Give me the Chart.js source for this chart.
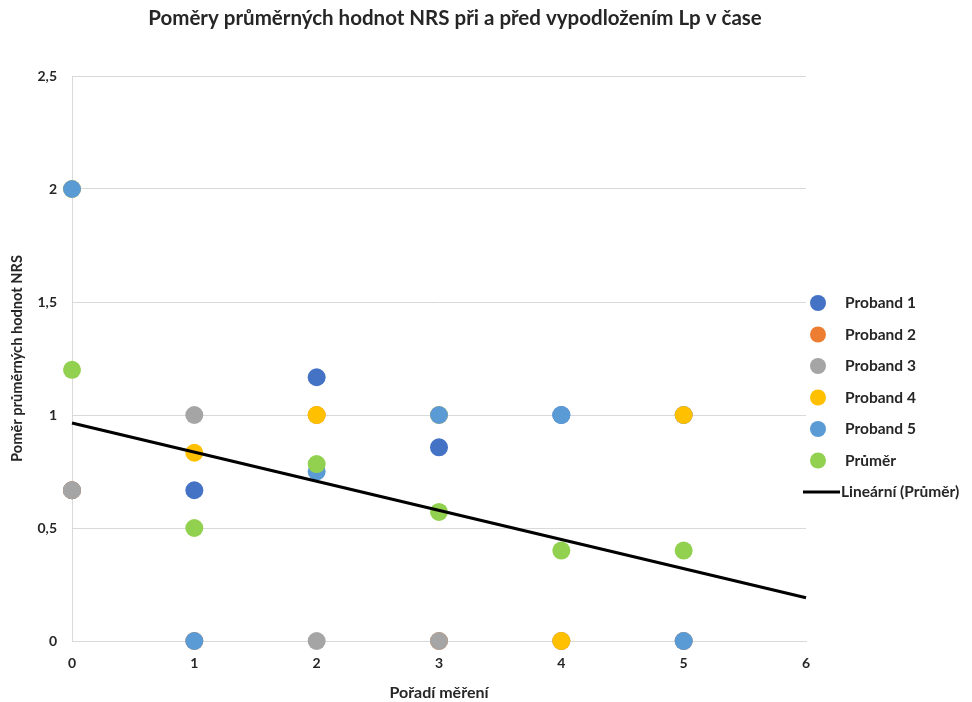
<!DOCTYPE html>
<html>
<head>
<meta charset="utf-8">
<script src="https://cdn.jsdelivr.net/npm/chart.js@4.4.1/dist/chart.umd.min.js"></script>
<style>
  html, body { margin: 0; padding: 0; background: #ffffff; }
  #wrap { width: 972px; height: 702px; }
</style>
</head>
<body>
<div id="wrap"><canvas id="c" width="972" height="702"></canvas></div>
<script>
// Pořadí měření (x) and poměry NRS pro jednotlivé probandy
const measurements = [0, 1, 2, 3, 4, 5];
const proband1 = [0.667, 0.667, 1.167, 0.857, 1, 1];
const proband2 = [0.667, 0, 1, 0, 0, 0];
const proband3 = [0.667, 1, 0, 0, 0, 0];
const proband4 = [2, 0.833, 1, 1, 0, 1];
const proband5 = [2, 0, 0.75, 1, 1, 0];
const prumer = [1.2, 0.5, 0.783, 0.571, 0.4, 0.4];

const seriesNames = ['Proband 1', 'Proband 2', 'Proband 3', 'Proband 4', 'Proband 5', 'Průměr'];
const seriesValues = [proband1, proband2, proband3, proband4, proband5, prumer];
const seriesColors = ['#4472C4', '#ED7D31', '#A5A5A5', '#FFC000', '#5B9BD5', '#92D050'];
const trendName = 'Lineární (Průměr)';
const trendRange = [0, 6];
const chartTitle = 'Poměry průměrných hodnot NRS při a před vypodložením Lp v čase';

const FONT = 'Lato, "Open Sans", sans-serif';
const TEXT = '#262626';

// least-squares trend of the mean series
function linearFit(xs, ys) {
  const n = xs.length;
  const mx = xs.reduce((a, b) => a + b, 0) / n;
  const my = ys.reduce((a, b) => a + b, 0) / n;
  let sxy = 0, sxx = 0;
  for (let i = 0; i < n; i++) {
    sxy += (xs[i] - mx) * (ys[i] - my);
    sxx += (xs[i] - mx) * (xs[i] - mx);
  }
  const slope = sxy / sxx;
  return { slope, intercept: my - slope * mx };
}
const fit = linearFit(measurements, prumer);

// later series sit on top of earlier ones, the trend line on top of all
const datasets = seriesNames.map((name, i) => ({
  label: name,
  data: measurements.map((x, j) => ({ x, y: seriesValues[i][j] })),
  backgroundColor: seriesColors[i],
  borderColor: seriesColors[i],
  pointRadius: 9,
  pointHoverRadius: 9,
  borderWidth: 0,
  showLine: false,
  clip: false,
  order: seriesNames.length - i + 1
}));
datasets.push({
  label: trendName,
  type: 'line',
  data: trendRange.map(x => ({ x, y: fit.intercept + fit.slope * x })),
  borderColor: '#000000',
  borderWidth: 3.2,
  pointRadius: 0,
  fill: false,
  clip: false,
  order: 0
});

// title above the plot, legend at its right
const decorations = {
  id: 'decorations',
  afterDraw(chart) {
    const { ctx, chartArea } = chart;
    ctx.save();
    ctx.fillStyle = TEXT;
    ctx.textBaseline = 'middle';
    ctx.textAlign = 'center';
    ctx.font = 'bold 20.5px ' + FONT;
    ctx.fillText(chartTitle, (chartArea.left + chartArea.right) / 2 + 16, 18);

    ctx.textAlign = 'left';
    ctx.font = 'bold 15.5px ' + FONT;
    const x0 = chartArea.right;
    let y = chartArea.top + 227;
    chart.data.datasets.forEach(ds => {
      if (ds.type === 'line') {
        ctx.strokeStyle = ds.borderColor;
        ctx.lineWidth = 3;
        ctx.beginPath();
        ctx.moveTo(x0 - 3, y);
        ctx.lineTo(x0 + 34, y);
        ctx.stroke();
        ctx.fillStyle = TEXT;
        ctx.fillText(ds.label, x0 + 35, y);
      } else {
        ctx.fillStyle = ds.backgroundColor;
        ctx.beginPath();
        ctx.arc(x0 + 12, y, 8, 0, Math.PI * 2);
        ctx.fill();
        ctx.fillStyle = TEXT;
        ctx.fillText(ds.label, x0 + 39, y);
      }
      y += 31.5;
    });
    ctx.restore();
  }
};

new Chart(document.getElementById('c'), {
  type: 'scatter',
  data: { datasets },
  plugins: [decorations],
  options: {
    responsive: false,
    animation: false,
    devicePixelRatio: 1,
    layout: { padding: { left: 9, right: 166, top: 76, bottom: 0 } },
    plugins: {
      legend: { display: false },
      tooltip: { enabled: false },
      title: { display: false }
    },
    scales: {
      x: {
        type: 'linear',
        min: 0,
        max: 6,
        afterFit: s => { s.height = 61; },
        ticks: { stepSize: 1, padding: 14, color: TEXT, font: { family: FONT, size: 14, weight: 'bold' } },
        grid: { display: false, drawTicks: false },
        border: { display: true, color: '#D9D9D9', width: 1 },
        title: {
          display: true,
          text: 'Pořadí měření',
          color: TEXT,
          font: { family: FONT, size: 16, weight: 'bold' },
          padding: { top: 0, bottom: 0 }
        }
      },
      y: {
        min: 0,
        max: 2.5,
        afterFit: s => { s.width = 63; },
        ticks: {
          stepSize: 0.5,
          padding: 15,
          color: TEXT,
          font: { family: FONT, size: 14, weight: 'bold' },
          callback: v => String(v).replace('.', ',')
        },
        grid: { color: '#D9D9D9', lineWidth: 1, drawTicks: false },
        border: { display: true, color: '#D9D9D9', width: 1 },
        title: {
          display: true,
          text: 'Poměr průměrných hodnot NRS',
          color: TEXT,
          font: { family: FONT, size: 14.6, weight: 'bold' },
          padding: { top: 0, bottom: 0 }
        }
      }
    }
  }
});
</script>
</body>
</html>
